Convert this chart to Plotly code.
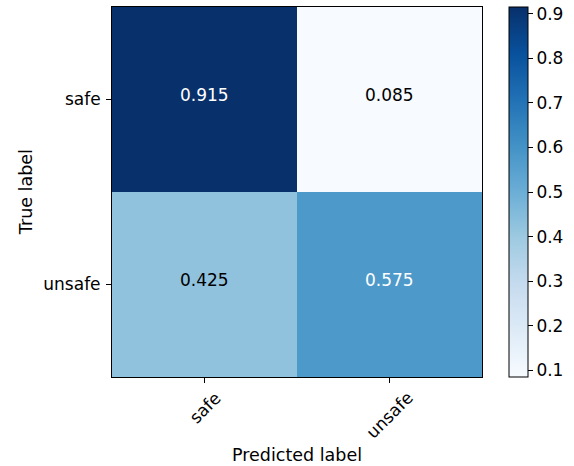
import plotly.graph_objects as go

# Normalized confusion matrix
labels = ["safe", "unsafe"]
matrix = [
    [0.915, 0.085],
    [0.425, 0.575],
]
cbar_ticks = [0.1, 0.2, 0.3, 0.4, 0.5, 0.6, 0.7, 0.8, 0.9]

# matplotlib "Blues" colormap stops
blues = ["#f7fbff", "#deebf7", "#c6dbef", "#9ecae1", "#6baed6",
         "#4292c6", "#2171b5", "#08519c", "#08306b"]
colorscale = [[i / (len(blues) - 1), c] for i, c in enumerate(blues)]

font_family = "DejaVu Sans"
tick_size = 17
title_size = 17.5
vmax = max(max(r) for r in matrix)
vmin = min(min(r) for r in matrix)
thresh = vmax / 2.0

fig = go.Figure(
    go.Heatmap(
        z=matrix,
        x=labels,
        y=labels,
        zmin=vmin,
        zmax=vmax,
        colorscale=colorscale,
        xgap=0,
        ygap=0,
        hoverinfo="skip",
        colorbar=dict(
            x=1.073,
            xanchor="left",
            xpad=0,
            ypad=0,
            y=0.5,
            yanchor="middle",
            len=1.0,
            lenmode="fraction",
            thickness=19,
            outlinecolor="black",
            outlinewidth=1,
            tickmode="array",
            tickvals=cbar_ticks,
            ticktext=[f"{t:.1f}" for t in cbar_ticks],
            ticks="outside",
            ticklen=5,
            tickcolor="black",
            tickfont=dict(family=font_family, size=tick_size, color="black"),
        ),
    )
)

annotations = []
# cell values, white on dark cells
for i, row_label in enumerate(labels):
    for j, col_label in enumerate(labels):
        v = matrix[i][j]
        annotations.append(dict(
            x=col_label, y=row_label, xref="x", yref="y",
            text=f"{v:.3f}", showarrow=False, yshift=5,
            font=dict(family=font_family, size=tick_size,
                      color="white" if v > thresh else "black"),
        ))

# rotated x tick labels, centred under each tick
for col_label in labels:
    annotations.append(dict(
        x=col_label, y=0, xref="x", yref="paper",
        text=col_label, showarrow=False, textangle=-45,
        xanchor="center", yanchor="top", yshift=-8,
        font=dict(family=font_family, size=tick_size, color="black"),
    ))

annotations.append(dict(
    x=0.5, y=-0.211, xref="paper", yref="paper",
    text="Predicted label", showarrow=False,
    xanchor="center", yanchor="middle",
    font=dict(family=font_family, size=title_size, color="black"),
))
annotations.append(dict(
    x=-0.232, y=0.5, xref="paper", yref="paper",
    text="True label", showarrow=False, textangle=-90,
    xanchor="center", yanchor="middle",
    font=dict(family=font_family, size=title_size, color="black"),
))

axis_common = dict(
    showgrid=False,
    zeroline=False,
    showline=True,
    linecolor="black",
    linewidth=1,
    mirror=True,
    ticks="outside",
    ticklen=5,
    tickcolor="black",
    tickfont=dict(family=font_family, size=tick_size, color="black"),
)

fig.update_layout(
    width=574,
    height=466,
    margin=dict(l=112, r=92, t=7, b=89),
    paper_bgcolor="white",
    plot_bgcolor="white",
    xaxis=dict(**axis_common, showticklabels=False, constrain="domain"),
    yaxis=dict(**axis_common, autorange="reversed", ticklabelstandoff=2),
    annotations=annotations,
    font=dict(family=font_family),
)

fig.write_html("out.html")
